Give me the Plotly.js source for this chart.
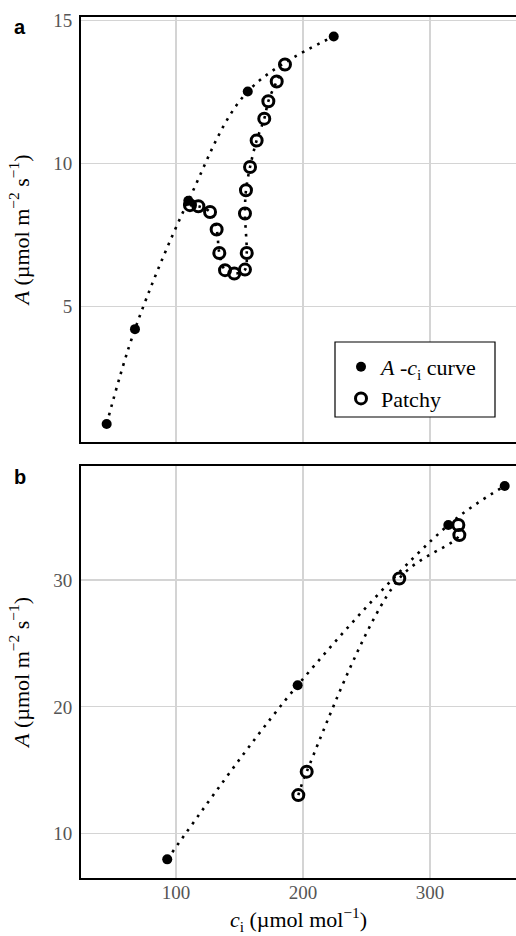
<!DOCTYPE html>
<html>
<head>
<meta charset="utf-8">
<script src="https://cdn.plot.ly/plotly-3.0.1.min.js"></script>
<style>html,body{margin:0;padding:0;background:#fff}#chart{width:516px;height:936px}</style>
</head>
<body>
<div id="chart"></div>
<script>
// Panel a: A-ci curve (solid points)
const aciTopX = [45.4, 67.7, 109.7, 156.5, 224.2];
const aciTopY = [0.91, 4.22, 8.70, 12.52, 14.44];
// Panel a: Patchy (open circles), in measurement order
const patchyTopX = [111.0, 117.6, 126.8, 132.0, 134.1, 138.6, 145.9, 154.3, 155.7, 154.3, 155.1, 158.3, 163.5, 169.5, 172.7, 179.3, 185.8];
const patchyTopY = [8.55, 8.51, 8.31, 7.70, 6.88, 6.28, 6.16, 6.30, 6.88, 8.26, 9.07, 9.88, 10.81, 11.57, 12.18, 12.87, 13.46];
// Panel b: A-ci curve
const aciBotX = [93.1, 195.8, 314.4, 358.8];
const aciBotY = [7.97, 21.71, 34.34, 37.42];
// Panel b: Patchy
const patchyBotX = [196.3, 202.9, 275.8, 323.1, 322.3];
const patchyBotY = [13.04, 14.89, 30.13, 33.55, 34.34];

const xTicks = [100, 200, 300];
const yTicksTop = [5, 10, 15];
const yTicksBot = [10, 20, 30];
const legendNames = ['<i>A</i> -<i>c</i><sub>i</sub> curve', 'Patchy'];
const yTitle = '<i>A</i> (µmol m<sup>−2</sup> s<sup>−1</sup>)';
const xTitle = '<i>c</i><sub>i</sub> (µmol mol<sup>−1</sup>)';

const W = 516, H = 936;
const SERIF = 'Liberation Serif';
const SANS = 'Liberation Sans';
const dotted = {color: 'black', width: 2.6, dash: '2.6px,6px', shape: 'spline', smoothing: 1};

function lineTrace(x, y, xa, ya) {
  return {x, y, xaxis: xa, yaxis: ya, type: 'scatter', mode: 'lines', line: dotted, showlegend: false, hoverinfo: 'skip'};
}
function solidTrace(x, y, xa, ya, show) {
  return {x, y, xaxis: xa, yaxis: ya, type: 'scatter', mode: 'markers', name: legendNames[0], legendgroup: 'a',
    showlegend: show, marker: {symbol: 'circle', size: 10, color: 'black'}};
}
function openTrace(x, y, xa, ya, show) {
  return {x, y, xaxis: xa, yaxis: ya, type: 'scatter', mode: 'markers', name: legendNames[1], legendgroup: 'p',
    showlegend: show, marker: {symbol: 'circle-open', size: 11, color: 'black', line: {width: 3, color: 'black'}}};
}

const data = [
  lineTrace(aciTopX, aciTopY, 'x2', 'y2'),
  lineTrace(patchyTopX, patchyTopY, 'x2', 'y2'),
  lineTrace(aciBotX, aciBotY, 'x', 'y'),
  lineTrace(patchyBotX, patchyBotY, 'x', 'y'),
  solidTrace(aciTopX, aciTopY, 'x2', 'y2', true),
  openTrace(patchyTopX, patchyTopY, 'x2', 'y2', true),
  solidTrace(aciBotX, aciBotY, 'x', 'y', false),
  openTrace(patchyBotX, patchyBotY, 'x', 'y', false)
];

const xDom = [81 / W, 1];
const xRange = [25.2, 367.7];
const common = {
  showgrid: true, gridcolor: '#d4d4d4', gridwidth: 1.2, zeroline: false,
  showline: true, linecolor: 'black', linewidth: 2, ticks: '',
  tickfont: {family: SERIF, size: 19, color: '#555555'}
};
const titleFont = {family: SERIF, size: 22, color: 'black'};

const layout = {
  width: W, height: H,
  margin: {l: 0, r: 0, t: 0, b: 0},
  paper_bgcolor: 'white', plot_bgcolor: 'white',
  font: {family: SERIF, size: 19, color: 'black'},
  showlegend: true,
  legend: {
    x: 341 / W, y: (H - 346) / H, xanchor: 'left', yanchor: 'top',
    bgcolor: 'rgba(0,0,0,0)', borderwidth: 0,
    font: {family: SERIF, size: 22, color: 'black'},
    tracegroupgap: 0
  },
  shapes: [
    {type: 'rect', xref: 'paper', yref: 'paper', x0: 335 / W, x1: 495 / W, y0: (H - 417) / H, y1: (H - 342) / H,
      line: {color: 'black', width: 1.2}, fillcolor: 'white', layer: 'above'}
  ],
  xaxis: Object.assign({}, common, {
    domain: xDom, range: xRange, anchor: 'y', mirror: true,
    tickvals: xTicks, ticklabelstandoff: -4,
    title: {text: xTitle, font: titleFont, standoff: 10}
  }),
  yaxis: Object.assign({}, common, {
    domain: [(H - 878) / H, (H - 466) / H], range: [6.5, 39.0], anchor: 'x', mirror: false,
    tickvals: yTicksBot, ticklabelstandoff: 3,
    title: {text: yTitle, font: titleFont, standoff: 18}
  }),
  xaxis2: Object.assign({}, common, {
    domain: xDom, range: xRange, anchor: 'y2', mirror: true,
    tickvals: xTicks, showticklabels: false
  }),
  yaxis2: Object.assign({}, common, {
    domain: [(H - 442) / H, (H - 17) / H], range: [0.28, 15.12], anchor: 'x2', mirror: false,
    tickvals: yTicksTop, ticklabelstandoff: 3,
    title: {text: yTitle, font: titleFont, standoff: 18}
  }),
  annotations: [
    {text: '<b>a</b>', xref: 'paper', yref: 'paper', x: 12 / W, y: (H - 27) / H, xanchor: 'left', yanchor: 'middle',
      showarrow: false, font: {family: SANS, size: 20, color: 'black'}},
    {text: '<b>b</b>', xref: 'paper', yref: 'paper', x: 12 / W, y: (H - 477) / H, xanchor: 'left', yanchor: 'middle',
      showarrow: false, font: {family: SANS, size: 20, color: 'black'}}
  ]
};

Plotly.newPlot('chart', data, layout, {displayModeBar: false, staticPlot: true});
</script>
</body>
</html>
